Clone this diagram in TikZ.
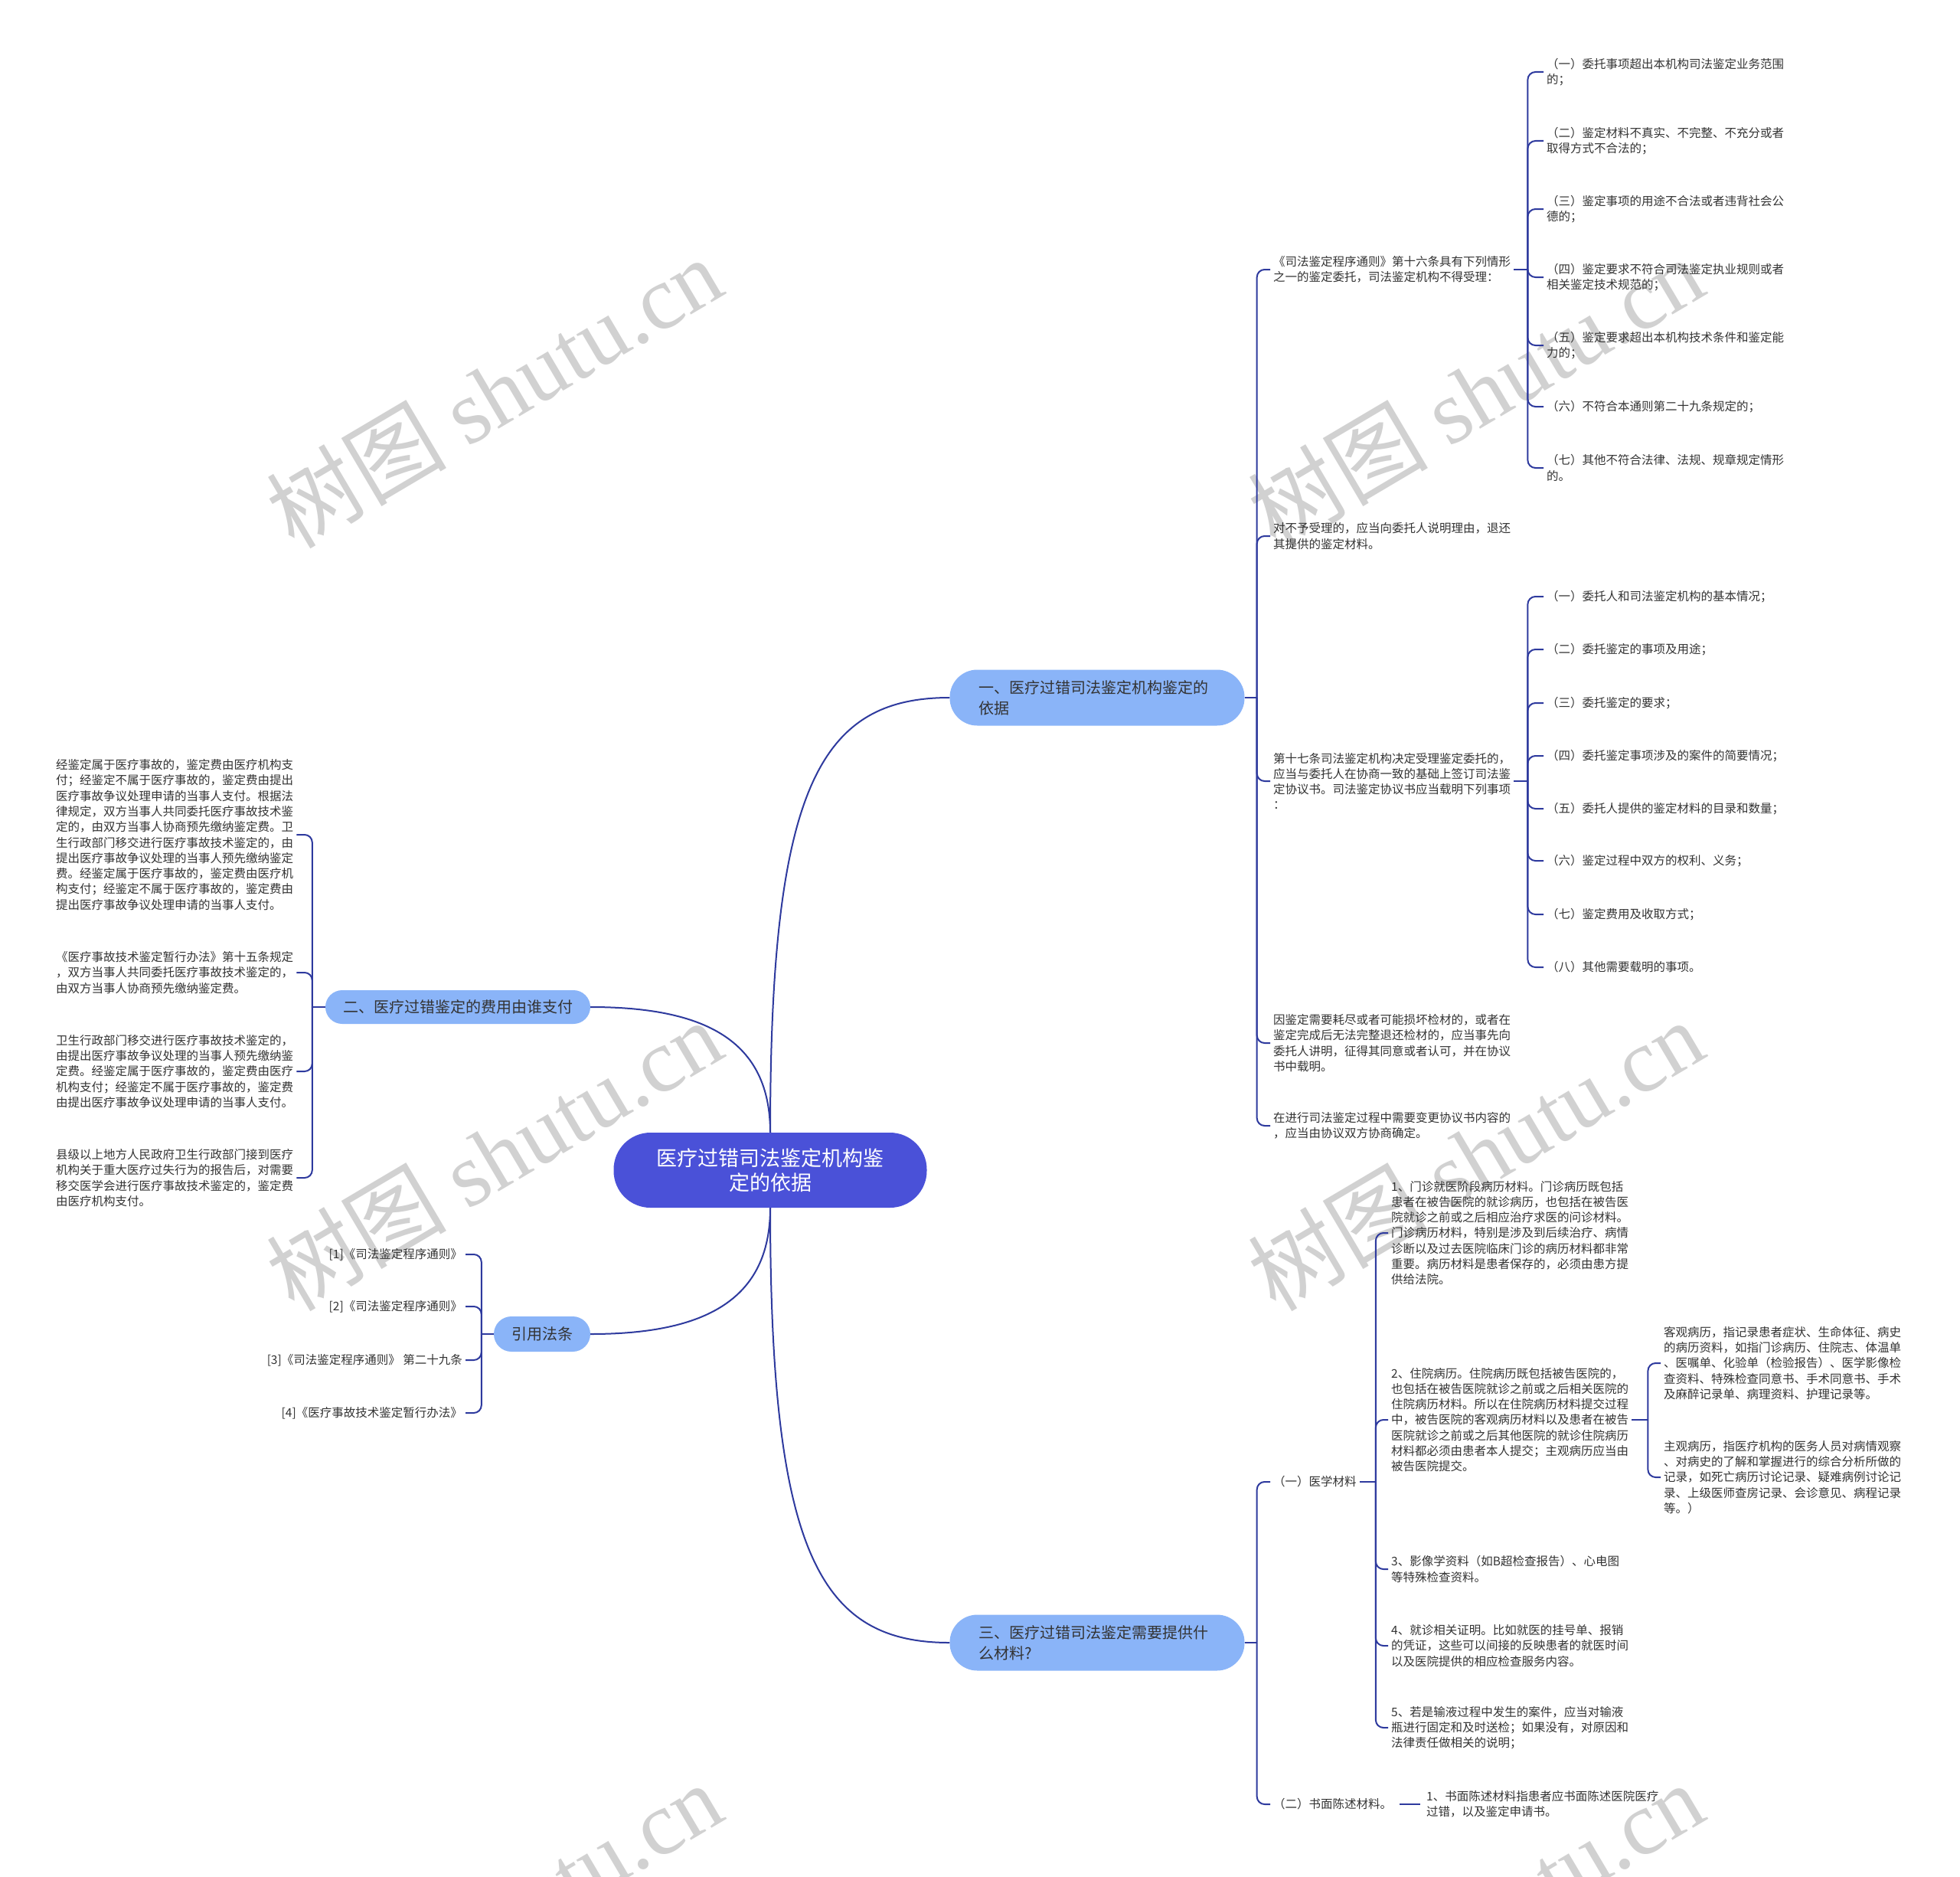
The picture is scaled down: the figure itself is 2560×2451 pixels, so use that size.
\documentclass[tikz,border=0pt]{standalone}
\usepackage{fontspec}
\setmainfont{Noto Sans CJK SC}
\newfontfamily\wmlatin{Liberation Serif}
\usetikzlibrary{calc}
\definecolor{linkc}{HTML}{2E3A9E}
\definecolor{rootc}{HTML}{4A51D8}
\definecolor{mainc}{HTML}{8AB4F8}
\definecolor{txtc}{HTML}{333333}
\tikzset{
  link/.style={draw=linkc, line width=2pt},
  brlink/.style={link, rounded corners=10pt},
  leaf/.style={inner xsep=4pt, inner ysep=0pt, align=left, text=txtc,
    font=\fontsize{15.5pt}{20.3pt}\selectfont},
  leafL/.style={leaf, anchor=west},
  leafR/.style={leaf, anchor=east, align=right},
  mainnode/.style={fill=mainc, text=txtc, inner ysep=0pt,
    font=\fontsize{20pt}{27pt}\selectfont},
  rootnode/.style={fill=rootc, text=white, align=center, inner ysep=0pt,
    minimum width=409pt, minimum height=98pt, rounded corners=48pt,
    font=\fontsize{27pt}{32pt}\selectfont},
  wm/.style={text=black!18, rotate=30.6, inner sep=0pt,
    font=\fontsize{118pt}{118pt}\selectfont}
}
\begin{document}
\begin{tikzpicture}[x=1pt,y=-1pt]
\fill[white] (0,0) rectangle (2560,2451);
\useasboundingbox (0,0) rectangle (2560,2451);
% watermarks
\begin{scope}
\clip (0,0) rectangle (2560,2451);
\node[wm] (w1) at (645,512) {树图 {\wmlatin shutu.cn}};
\node[wm] (w2) at (1927,512) {树图 {\wmlatin shutu.cn}};
\node[wm] (w3) at (645,1508) {树图 {\wmlatin shutu.cn}};
\node[wm] (w4) at (1927,1508) {树图 {\wmlatin shutu.cn}};
\node[wm] (w5) at (645,2504) {树图 {\wmlatin shutu.cn}};
\node[wm] (w6) at (1927,2504) {树图 {\wmlatin shutu.cn}};
\end{scope}

% root and main branches
\node[rootnode] (root) at (1006,1528) {医疗过错司法鉴定机构鉴\\定的依据};
\node[mainnode, text width=310pt, inner xsep=37.5pt, minimum height=73pt,
  rounded corners=36pt, align=left] (b1) at (1433,911)
  {一、医疗过错司法鉴定机构鉴定的\\依据};
\node[mainnode, minimum width=346pt, minimum height=44pt, rounded corners=22pt]
  (b2) at (598,1315) {二、医疗过错鉴定的费用由谁支付};
\node[mainnode, minimum width=126pt, minimum height=46pt, rounded corners=23pt]
  (ref) at (708,1742) {引用法条};
\node[mainnode, text width=310pt, inner xsep=37.5pt, minimum height=73pt,
  rounded corners=36pt, align=left] (b3) at (1433,2145)
  {三、医疗过错司法鉴定需要提供什\\么材料?};

\draw[link] (root.north) .. controls +(0,-450) and +(-170,0) .. (b1.west);
\draw[link] (root.north) .. controls +(0,-120) and +(150,0) .. (b2.east);
\draw[link] (root.south) .. controls +(0,120) and +(150,0) .. (ref.east);
\draw[link] (root.south) .. controls +(0,450) and +(-170,0) .. (b3.west);

% ---------- branch 1 ----------
\node[leafL] (a1) at (1659,352) {《司法鉴定程序通则》第十六条具有下列情形\\之一的鉴定委托，司法鉴定机构不得受理：};
\node[leafL] (a2) at (1659,700) {对不予受理的，应当向委托人说明理由，退还\\其提供的鉴定材料。};
\node[leafL] (a3) at (1659,1020) {第十七条司法鉴定机构决定受理鉴定委托的，\\应当与委托人在协商一致的基础上签订司法鉴\\定协议书。司法鉴定协议书应当载明下列事项\\：};
\node[leafL] (a4) at (1659,1362) {因鉴定需要耗尽或者可能损坏检材的，或者在\\鉴定完成后无法完整退还检材的，应当事先向\\委托人讲明，征得其同意或者认可，并在协议\\书中载明。};
\node[leafL] (a5) at (1659,1470) {在进行司法鉴定过程中需要变更协议书内容的\\，应当由协议双方协商确定。};

\draw[link] (b1.east) -- ++(16,0) coordinate (t1);
\foreach \n in {a1,a2,a3,a4,a5} \draw[brlink] (t1) |- (\n.west);

\node[leafL] (g1) at (2016,94) {（一）委托事项超出本机构司法鉴定业务范围\\的；};
\node[leafL] (g2) at (2016,184) {（二）鉴定材料不真实、不完整、不充分或者\\取得方式不合法的；};
\node[leafL] (g3) at (2016,273) {（三）鉴定事项的用途不合法或者违背社会公\\德的；};
\node[leafL] (g4) at (2016,362) {（四）鉴定要求不符合司法鉴定执业规则或者\\相关鉴定技术规范的；};
\node[leafL] (g5) at (2016,451) {（五）鉴定要求超出本机构技术条件和鉴定能\\力的；};
\node[leafL] (g6) at (2016,531) {（六）不符合本通则第二十九条规定的；};
\node[leafL] (g7) at (2016,611) {（七）其他不符合法律、法规、规章规定情形\\的。};

\draw[link] (a1.east) -- ++(18,0) coordinate (ta1);
\foreach \n in {g1,g2,g3,g4,g5,g6,g7} \draw[brlink] (ta1) |- (\n.west);

\node[leafL] (h1) at (2016,779) {（一）委托人和司法鉴定机构的基本情况；};
\node[leafL] (h2) at (2016,848) {（二）委托鉴定的事项及用途；};
\node[leafL] (h3) at (2016,918) {（三）委托鉴定的要求；};
\node[leafL] (h4) at (2016,987) {（四）委托鉴定事项涉及的案件的简要情况；};
\node[leafL] (h5) at (2016,1056) {（五）委托人提供的鉴定材料的目录和数量；};
\node[leafL] (h6) at (2016,1124) {（六）鉴定过程中双方的权利、义务；};
\node[leafL] (h7) at (2016,1194) {（七）鉴定费用及收取方式；};
\node[leafL] (h8) at (2016,1263) {（八）其他需要载明的事项。};

\draw[link] (a3.east) -- ++(18,0) coordinate (ta3);
\foreach \n in {h1,h2,h3,h4,h5,h6,h7,h8} \draw[brlink] (ta3) |- (\n.west);

% ---------- branch 2 ----------
\node[leafL] (c21) at (69,1090) {经鉴定属于医疗事故的，鉴定费由医疗机构支\\付；经鉴定不属于医疗事故的，鉴定费由提出\\医疗事故争议处理申请的当事人支付。根据法\\律规定，双方当事人共同委托医疗事故技术鉴\\定的，由双方当事人协商预先缴纳鉴定费。卫\\生行政部门移交进行医疗事故技术鉴定的，由\\提出医疗事故争议处理的当事人预先缴纳鉴定\\费。经鉴定属于医疗事故的，鉴定费由医疗机\\构支付；经鉴定不属于医疗事故的，鉴定费由\\提出医疗事故争议处理申请的当事人支付。};
\node[leafL] (c22) at (69,1270) {《医疗事故技术鉴定暂行办法》第十五条规定\\，双方当事人共同委托医疗事故技术鉴定的，\\由双方当事人协商预先缴纳鉴定费。};
\node[leafL] (c23) at (69,1399) {卫生行政部门移交进行医疗事故技术鉴定的，\\由提出医疗事故争议处理的当事人预先缴纳鉴\\定费。经鉴定属于医疗事故的，鉴定费由医疗\\机构支付；经鉴定不属于医疗事故的，鉴定费\\由提出医疗事故争议处理申请的当事人支付。};
\node[leafL] (c24) at (69,1538) {县级以上地方人民政府卫生行政部门接到医疗\\机构关于重大医疗过失行为的报告后，对需要\\移交医学会进行医疗事故技术鉴定的，鉴定费\\由医疗机构支付。};

\draw[link] (b2.west) -- ++(-17,0) coordinate (t2);
\foreach \n in {c21,c22,c23,c24} \draw[brlink] (t2) |- (\n.east);

% ---------- references ----------
\node[leafR] (r1) at (608,1638) {[1]《司法鉴定程序通则》};
\node[leafR] (r2) at (608,1706) {[2]《司法鉴定程序通则》};
\node[leafR] (r3) at (608,1776) {[3]《司法鉴定程序通则》 第二十九条};
\node[leafR] (r4) at (608,1845) {[4]《医疗事故技术鉴定暂行办法》};

\draw[link] (ref.west) -- ++(-16,0) coordinate (tr);
\foreach \n in {r1,r2,r3,r4} \draw[brlink] (tr) |- (\n.east);

% ---------- branch 3 ----------
\node[leafL] (m1) at (1659,1935) {（一）医学材料};
\node[leafL] (m2) at (1659,2356) {（二）书面陈述材料。};

\draw[link] (b3.east) -- ++(16,0) coordinate (t3);
\foreach \n in {m1,m2} \draw[brlink] (t3) |- (\n.west);

\node[leafL] (d1) at (1813,1610) {1、门诊就医阶段病历材料。门诊病历既包括\\患者在被告医院的就诊病历，也包括在被告医\\院就诊之前或之后相应治疗求医的问诊材料。\\门诊病历材料，特别是涉及到后续治疗、病情\\诊断以及过去医院临床门诊的病历材料都非常\\重要。病历材料是患者保存的，必须由患方提\\供给法院。};
\node[leafL] (d2) at (1813,1854) {2、住院病历。住院病历既包括被告医院的，\\也包括在被告医院就诊之前或之后相关医院的\\住院病历材料。所以在住院病历材料提交过程\\中，被告医院的客观病历材料以及患者在被告\\医院就诊之前或之后其他医院的就诊住院病历\\材料都必须由患者本人提交；主观病历应当由\\被告医院提交。};
\node[leafL] (d3) at (1813,2049) {3、影像学资料（如B超检查报告）、心电图\\等特殊检查资料。};
\node[leafL] (d4) at (1813,2149) {4、就诊相关证明。比如就医的挂号单、报销\\的凭证，这些可以间接的反映患者的就医时间\\以及医院提供的相应检查服务内容。};
\node[leafL] (d5) at (1813,2256) {5、若是输液过程中发生的案件，应当对输液\\瓶进行固定和及时送检；如果没有，对原因和\\法律责任做相关的说明；};

\draw[link] (m1.east) -- ++(21,0) coordinate (tm1);
\foreach \n in {d1,d2,d3,d4,d5} \draw[brlink] (tm1) |- (\n.west);

\node[leafL] (e1) at (2169,1780) {客观病历，指记录患者症状、生命体征、病史\\的病历资料，如指门诊病历、住院志、体温单\\、医嘱单、化验单（检验报告）、医学影像检\\查资料、特殊检查同意书、手术同意书、手术\\及麻醉记录单、病理资料、护理记录等。};
\node[leafL] (e2) at (2169,1929) {主观病历，指医疗机构的医务人员对病情观察\\、对病史的了解和掌握进行的综合分析所做的\\记录，如死亡病历讨论记录、疑难病例讨论记\\录、上级医师查房记录、会诊意见、病程记录\\等。）};

\draw[link] (d2.east) -- ++(21,0) coordinate (td2);
\foreach \n in {e1,e2} \draw[brlink] (td2) |- (\n.west);

\node[leafL] (f1) at (1859,2356) {1、书面陈述材料指患者应书面陈述医院医疗\\过错，以及鉴定申请书。};
\draw[link, shorten <=6pt, shorten >=4pt] (m2.east) -- (f1.west);
\end{tikzpicture}
\end{document}
